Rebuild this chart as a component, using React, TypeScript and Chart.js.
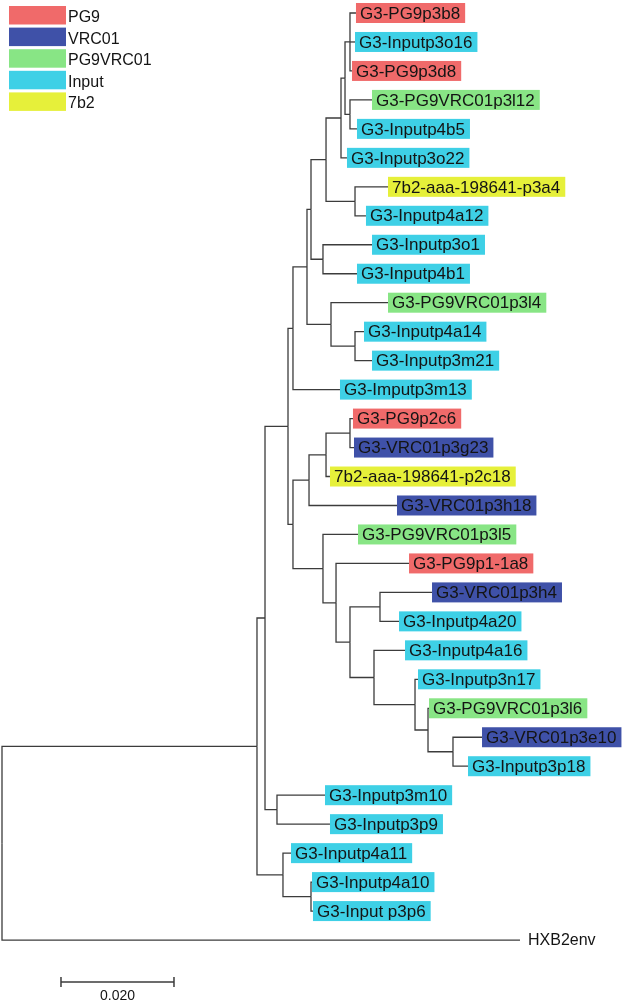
import React, { useEffect, useRef } from "react";
import { Chart, registerables } from "chart.js";

Chart.register(...registerables);

// ---- Leaves (top to bottom) ----
const leafNames = [
  "G3-PG9p3b8", "G3-Inputp3o16", "G3-PG9p3d8", "G3-PG9VRC01p3l12", "G3-Inputp4b5",
  "G3-Inputp3o22", "7b2-aaa-198641-p3a4", "G3-Inputp4a12", "G3-Inputp3o1", "G3-Inputp4b1",
  "G3-PG9VRC01p3l4", "G3-Inputp4a14", "G3-Inputp3m21", "G3-Imputp3m13", "G3-PG9p2c6",
  "G3-VRC01p3g23", "7b2-aaa-198641-p2c18", "G3-VRC01p3h18", "G3-PG9VRC01p3l5", "G3-PG9p1-1a8",
  "G3-VRC01p3h4", "G3-Inputp4a20", "G3-Inputp4a16", "G3-Inputp3n17", "G3-PG9VRC01p3l6",
  "G3-VRC01p3e10", "G3-Inputp3p18", "G3-Inputp3m10", "G3-Inputp3p9", "G3-Inputp4a11",
  "G3-Inputp4a10", "G3-Input p3p6", "HXB2env",
];
const leafGroups = [
  "PG9", "Input", "PG9", "PG9VRC01", "Input",
  "Input", "7b2", "Input", "Input", "Input",
  "PG9VRC01", "Input", "Input", "Input", "PG9",
  "VRC01", "7b2", "VRC01", "PG9VRC01", "PG9",
  "VRC01", "Input", "Input", "Input", "PG9VRC01",
  "VRC01", "Input", "Input", "Input", "Input",
  "Input", "Input", "",
];
// cumulative distance from root to each leaf tip
const leafDepths = [
  0.06265, 0.06248, 0.06195, 0.06549, 0.06283,
  0.06106, 0.06832, 0.06442, 0.06549, 0.06283,
  0.06832, 0.06407, 0.06549, 0.05982, 0.06212,
  0.06230, 0.05805, 0.06991, 0.06301, 0.07204,
  0.07611, 0.07027, 0.07133, 0.07363, 0.07558,
  0.08496, 0.08248, 0.05717, 0.05805, 0.05115,
  0.05487, 0.05504, 0.09168,
];

// ---- Internal nodes (numbers in children = leaf indices) ----
const nodeNames = [
  "root", "nY", "nW", "nM", "nL", "nI", "nG", "nE", "nD", "nB", "nA", "nC", "nF", "nH", "nJ", "nK",
  "nN4", "nN3", "nN2", "nN1", "nO", "nP", "nQ", "nR", "nS", "nT", "nU", "nV", "nX", "nZ", "nAA",
];
const nodeDepths = [
  0.0, 0.04513, 0.04655, 0.05062, 0.0515, 0.05398, 0.05469, 0.05735, 0.06, 0.06071, 0.06159,
  0.06159, 0.06248, 0.05681, 0.05823, 0.06248,
  0.0515, 0.05434, 0.05735, 0.06159, 0.05681, 0.05912, 0.06159, 0.0669, 0.06584, 0.0731,
  0.0754, 0.07982, 0.04867, 0.04973, 0.05469,
];
const nodeChildren: (string | number)[][] = [
  ["nY", 32], ["nW", "nZ"], ["nM", "nX"], ["nL", "nN4"], ["nI", 13], ["nG", "nJ"], ["nE", "nH"],
  ["nD", "nF"], ["nB", 5], ["nA", "nC"], [0, 1, 2], [3, 4], [6, 7],
  [8, 9], [10, "nK"], [11, 12],
  ["nN3", "nO"], ["nN2", 17], ["nN1", 16], [14, 15], [18, "nP"], [19, "nQ"],
  ["nR", "nS"], [20, 21], [22, "nT"], [23, "nU"], [24, "nV"], [25, 26],
  [27, 28], [29, "nAA"], [30, 31],
];

// ---- Legend ----
const legendNames = ["PG9", "VRC01", "PG9VRC01", "Input", "7b2"];
const legendColors = ["#f06a6a", "#3f51a8", "#88e585", "#3ed0e6", "#e6f03a"];

// ---- Scale bar ----
const scaleBarStart = 0.01044;
const scaleBarLength = 0.02;
const scaleBarLabel = "0.020";
const scaleBarRow = 33.45;

const FONT = "'Liberation Sans', Arial, sans-serif";
const LINE = "#3c3c3c";

function resolve(id: string | number): { x: number; y: number } {
  if (typeof id === "number") {
    return { x: leafDepths[id], y: id };
  }
  const n = nodeNames.indexOf(id);
  const ch = nodeChildren[n].map(resolve);
  return { x: nodeDepths[n], y: (ch[0].y + ch[ch.length - 1].y) / 2 };
}

function buildEdges() {
  const ds: any[] = [];
  nodeNames.forEach((name, n) => {
    const p = resolve(name);
    nodeChildren[n].forEach((cid) => {
      const c = resolve(cid);
      ds.push({
        data: [
          { x: p.x, y: p.y },
          { x: p.x, y: c.y },
          { x: c.x, y: c.y },
        ],
        showLine: true,
        borderColor: LINE,
        borderWidth: 1.3,
        pointRadius: 0,
        fill: false,
        tension: 0,
      });
    });
  });
  return ds;
}

const labelPlugin = {
  id: "treeLabels",
  afterDatasetsDraw(chart: any) {
    const ctx = chart.ctx as CanvasRenderingContext2D;
    const xs = chart.scales.x;
    const ys = chart.scales.y;
    ctx.save();
    ctx.textBaseline = "middle";
    ctx.textAlign = "left";
    ctx.font = `17px ${FONT}`;
    leafNames.forEach((name, i) => {
      const px = xs.getPixelForValue(leafDepths[i]);
      const py = ys.getPixelForValue(i);
      const g = leafGroups[i];
      const w = ctx.measureText(name).width;
      if (g) {
        ctx.fillStyle = legendColors[legendNames.indexOf(g)];
        ctx.fillRect(px, py - 10, w + 9, 20);
        ctx.fillStyle = "#141414";
        ctx.fillText(name, px + 4, py + 1);
      } else {
        ctx.fillStyle = "#141414";
        ctx.font = `16px ${FONT}`;
        ctx.fillText(name, px + 8, py + 1);
        ctx.font = `17px ${FONT}`;
      }
    });

    // legend
    ctx.font = `16px ${FONT}`;
    legendNames.forEach((name, i) => {
      const top = 6 + i * 21.6;
      ctx.fillStyle = legendColors[i];
      ctx.fillRect(9, top, 57, 18.5);
      ctx.fillStyle = "#141414";
      ctx.fillText(name, 68, top + 11.5);
    });

    // scale bar
    const x0 = xs.getPixelForValue(scaleBarStart);
    const x1 = xs.getPixelForValue(scaleBarStart + scaleBarLength);
    const y0 = ys.getPixelForValue(scaleBarRow);
    ctx.strokeStyle = LINE;
    ctx.lineWidth = 1.5;
    ctx.beginPath();
    ctx.moveTo(x0, y0);
    ctx.lineTo(x1, y0);
    ctx.moveTo(x0, y0 - 5);
    ctx.lineTo(x0, y0 + 5);
    ctx.moveTo(x1, y0 - 5);
    ctx.lineTo(x1, y0 + 5);
    ctx.stroke();
    ctx.fillStyle = "#141414";
    ctx.font = `14px ${FONT}`;
    ctx.textAlign = "center";
    ctx.fillText(scaleBarLabel, (x0 + x1) / 2, y0 + 14);
    ctx.restore();
  },
};

export default function App() {
  const ref = useRef<HTMLCanvasElement | null>(null);
  useEffect(() => {
    if (!ref.current) return;
    const pxPerUnit = 113 / 0.02;
    const rowPx = 28.97;
    const chart = new Chart(ref.current, {
      type: "scatter",
      data: { datasets: buildEdges() },
      options: {
        responsive: false,
        animation: false,
        devicePixelRatio: 1,
        layout: { padding: 0 },
        plugins: { legend: { display: false }, tooltip: { enabled: false } },
        events: [],
        scales: {
          x: { type: "linear", display: false, min: -2 / pxPerUnit, max: 624 / pxPerUnit },
          y: {
            type: "linear",
            display: false,
            reverse: true,
            min: -13 / rowPx,
            max: -13 / rowPx + 1004 / rowPx,
          },
        },
      },
      plugins: [labelPlugin],
    });
    return () => chart.destroy();
  }, []);
  return (
    <div style={{ position: "fixed", left: 0, top: 0, width: 626, height: 1004, background: "#fff" }}>
      <canvas ref={ref} width={626} height={1004} />
    </div>
  );
}
